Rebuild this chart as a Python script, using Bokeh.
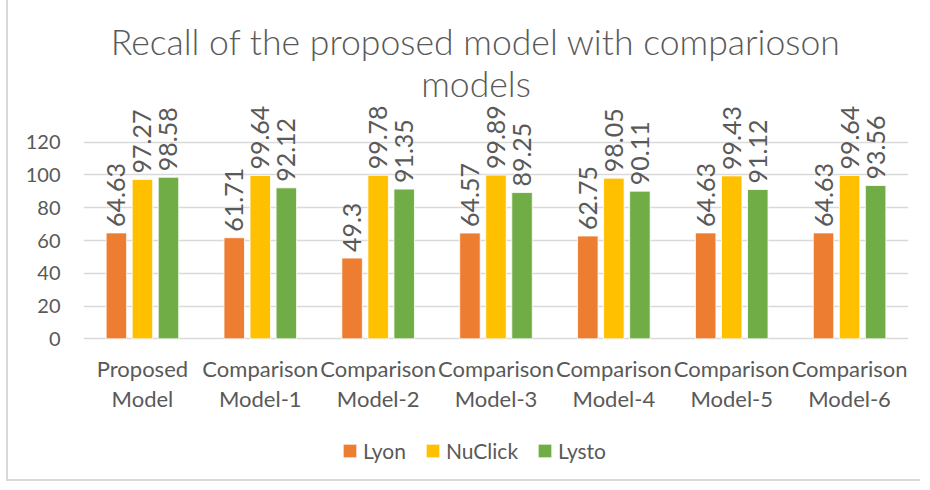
import math
from bokeh.plotting import figure
from bokeh.models import (ColumnDataSource, FactorRange, Range1d, FixedTicker, LabelSet,
                          Label, Legend, LegendItem)
from bokeh.core.properties import value
from bokeh.transform import dodge
from bokeh.embed import file_html
from bokeh.resources import INLINE

categories = ["Proposed Model", "Comparison Model-1", "Comparison Model-2", "Comparison Model-3",
              "Comparison Model-4", "Comparison Model-5", "Comparison Model-6"]
cat_line1 = ["Proposed", "Comparison", "Comparison", "Comparison", "Comparison", "Comparison", "Comparison"]
cat_line2 = ["Model", "Model-1", "Model-2", "Model-3", "Model-4", "Model-5", "Model-6"]
series_names = ["Lyon", "NuClick", "Lysto"]
lyon = [64.63, 61.71, 49.3, 64.57, 62.75, 64.63, 64.63]
nuclick = [97.27, 99.64, 99.78, 99.89, 98.05, 99.43, 99.64]
lysto = [98.58, 92.12, 91.35, 89.25, 90.11, 91.12, 93.56]
y_ticks = [0, 20, 40, 60, 80, 100, 120]
title_lines = ["Recall of the proposed model with comparioson", "models"]

colors = ["#ED7D31", "#FFC000", "#70AD47"]
offsets = [-0.221, 0.0, 0.221]
bar_w = 0.174
FONT = value("Lato")
TXT = "#595959"

p = figure(x_range=FactorRange(*categories, range_padding=0), y_range=Range1d(-87.0, 206.4),
           width=914, height=481, output_backend="svg", toolbar_location=None)
p.min_border = 0
p.min_border_left = 75
p.min_border_right = 14
p.outline_line_color = None
p.background_fill_color = "white"
p.border_fill_color = "white"
p.xaxis.visible = False
p.styles = {"border-left": "2px solid #d9d9d9", "border-bottom": "2px solid #d9d9d9",
            "margin-left": "6px"}

items = []
for name, vals, col, off in zip(series_names, [lyon, nuclick, lysto], colors, offsets):
    src = ColumnDataSource(dict(cat=categories, val=vals, lab=[f"{v:g}" for v in vals]))
    r = p.vbar(x=dodge("cat", off, range=p.x_range), top="val", width=bar_w, source=src,
               fill_color=col, line_color="white", line_width=0.8)
    items.append(LegendItem(label=name, renderers=[r]))
    ls = LabelSet(x=dodge("cat", off, range=p.x_range), y="val", text="lab", source=src,
                  angle=math.pi / 2, text_align="left", text_baseline="middle", y_offset=6,
                  text_font=FONT, text_font_size="25px", text_color=TXT)
    p.add_layout(ls)

p.ygrid.grid_line_color = "#d9d9d9"
p.ygrid.grid_line_width = 1.3
p.xgrid.grid_line_color = None

cat_src = ColumnDataSource(dict(cat=categories, l1=cat_line1, l2=cat_line2, zero=[0] * len(categories)))
for col_name, off_px in (("l1", -38), ("l2", -68)):
    p.add_layout(LabelSet(x="cat", y="zero", text=col_name, source=cat_src, y_offset=off_px,
                          text_align="center", text_baseline="alphabetic",
                          text_font=FONT, text_font_size="22px", text_color=TXT))

p.yaxis.ticker = FixedTicker(ticks=y_ticks)
p.ygrid.ticker = FixedTicker(ticks=y_ticks)
p.yaxis.axis_line_color = None
p.yaxis.major_tick_line_color = None
p.yaxis.minor_tick_line_color = None
p.yaxis.major_label_standoff = 17
p.yaxis.major_label_text_font = "Lato"
p.yaxis.major_label_text_font_size = "20px"
p.yaxis.major_label_text_color = TXT

legend = Legend(items=items, orientation="horizontal", location=(258, 18),
                glyph_width=17, glyph_height=17, label_standoff=5, spacing=18,
                padding=0, margin=0, border_line_color=None, background_fill_alpha=0,
                label_text_font="Lato", label_text_font_size="21px", label_text_color=TXT)
p.add_layout(legend, "center")

for line, yv in zip(title_lines, [181.5, 155.8]):
    p.add_layout(Label(x=3.33, y=yv, text=line, text_align="center", text_baseline="alphabetic",
                       text_font="Lato Light", text_font_size="35.6px", text_color=TXT))

open("out.html", "w").write(file_html(p, INLINE))
